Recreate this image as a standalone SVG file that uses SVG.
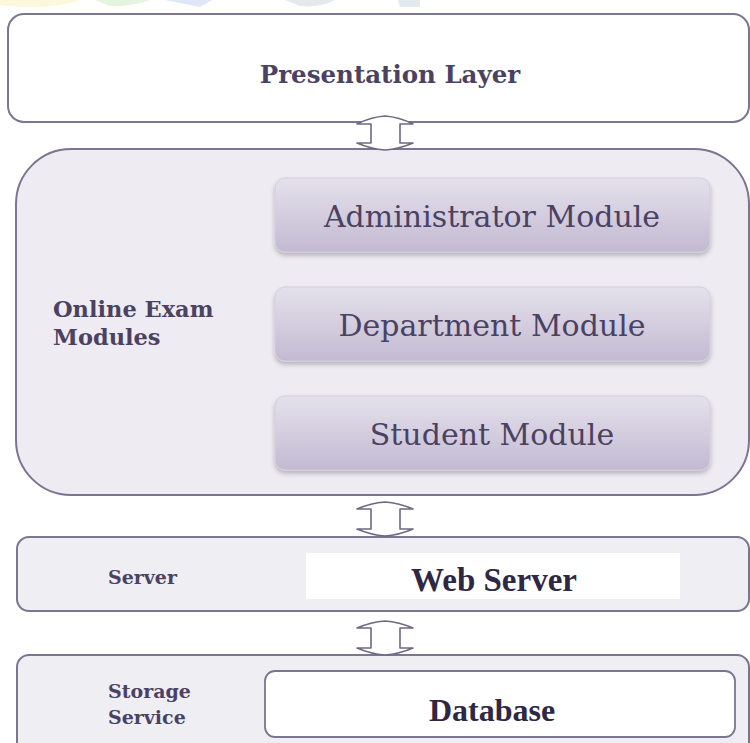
<svg xmlns="http://www.w3.org/2000/svg" width="750" height="743" viewBox="0 0 750 743">
<defs>
<linearGradient id="modGrad" x1="0" y1="0" x2="0" y2="1">
<stop offset="0" stop-color="#e4e1eb"/>
<stop offset="1" stop-color="#c3bad2"/>
</linearGradient>
<filter id="shadow" x="-5%" y="-10%" width="110%" height="130%">
<feGaussianBlur in="SourceAlpha" stdDeviation="2.5"/>
<feOffset dx="0" dy="3" result="b"/>
<feComponentTransfer><feFuncA type="linear" slope="0.25"/></feComponentTransfer>
<feMerge><feMergeNode/><feMergeNode in="SourceGraphic"/></feMerge>
</filter>
</defs>
<style>
.layer{stroke:#7b7590;stroke-width:2}
.mod{fill:url(#modGrad);stroke:#d3cddd;stroke-width:1;filter:url(#shadow)}
.lbl{font-family:"DejaVu Serif","Liberation Serif",serif;font-weight:bold;fill:#4b4263}
.modtxt{font-family:"DejaVu Serif","Liberation Serif",serif;fill:#4b4263;text-anchor:middle}
.tnr{font-family:"Liberation Serif","Times New Roman",serif;font-weight:bold;fill:#2e2844;text-anchor:middle}
.arrow{fill:#ffffff;stroke:#6f6883;stroke-width:1.6;stroke-linejoin:round}
</style>
<rect width="750" height="743" fill="#ffffff"/>
<g id="watermark" opacity="0.5">
<path d="M0 0 H80 Q60 8 20 7 Q5 6 0 5 Z" fill="#fbf3b8"/>
<path d="M95 0 H150 Q130 7 110 6 Z" fill="#cdeabf"/>
<path d="M165 0 H212 L200 7 Z" fill="#c0cff0"/>
<path d="M285 0 H335 Q320 8 300 6 Z" fill="#c9d4da"/>
<path d="M398 0 H420 V7 H400 Z" fill="#c9d4da"/>
</g>
<g id="presentation">
<rect class="layer" x="8" y="14" width="741" height="108" rx="16" fill="#ffffff"/>
<text class="lbl" x="390" y="83" font-size="24.5" text-anchor="middle">Presentation Layer</text>
</g>
<g id="online-exam-modules">
<rect class="layer" x="16" y="149" width="733" height="346" rx="55" fill="#eeecf2"/>
<text class="lbl" x="53" y="317" font-size="22.5">Online Exam</text>
<text class="lbl" x="53" y="345" font-size="22.5">Modules</text>
</g>
<g id="administrator-module">
<rect class="mod" x="275" y="178" width="435" height="74" rx="10"/>
<text class="modtxt" x="492" y="227" font-size="30">Administrator Module</text>
</g>
<g id="department-module">
<rect class="mod" x="275" y="287" width="435" height="74" rx="10"/>
<text class="modtxt" x="492" y="336" font-size="30">Department Module</text>
</g>
<g id="student-module">
<rect class="mod" x="275" y="396" width="435" height="74" rx="10"/>
<text class="modtxt" x="492" y="445" font-size="30">Student Module</text>
</g>
<g id="server">
<rect class="layer" x="17" y="537" width="732" height="74" rx="12" fill="#efeef3"/>
<text class="lbl" x="108" y="584" font-size="19">Server</text>
<rect x="306" y="553" width="374" height="46" fill="#ffffff"/>
<text class="tnr" x="494" y="591" font-size="33">Web Server</text>
</g>
<g id="storage-service">
<rect class="layer" x="17" y="655" width="732" height="100" rx="12" fill="#efeef3"/>
<text class="lbl" x="108" y="698" font-size="19">Storage</text>
<text class="lbl" x="108" y="724" font-size="19">Service</text>
<rect x="265" y="671" width="470" height="66" rx="10" fill="#ffffff" stroke="#7b7590" stroke-width="1.8"/>
<text class="tnr" x="492" y="721" font-size="32">Database</text>
</g>
<g id="connectors">
<path class="arrow" d="M357 124 Q371 117 385 116 Q399 117 413 124 H400 V143 H413 Q399 149 385 150 Q371 149 357 143 H371 V124 Z"/>
<path class="arrow" d="M357 509 Q371 503 385 502 Q399 503 413 509 H400 V529 H413 Q399 535 385 536 Q371 535 357 529 H371 V509 Z"/>
<path class="arrow" d="M357 628 Q371 622 385 621 Q399 622 413 628 H400 V648 H413 Q399 654 385 655 Q371 654 357 648 H371 V628 Z"/>
</g>
</svg>
